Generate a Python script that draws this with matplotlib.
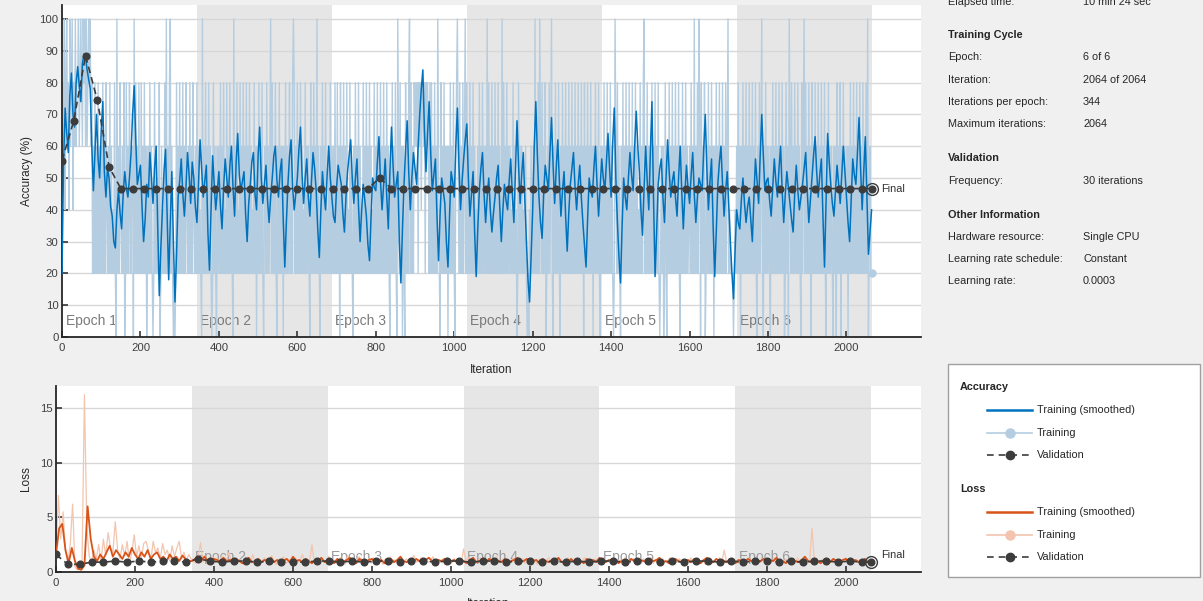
import numpy as np
import matplotlib
matplotlib.use("Agg")
import matplotlib.pyplot as plt
from matplotlib.lines import Line2D
from matplotlib.patches import Rectangle

plt.rcParams['font.family'] = ['Liberation Sans', 'DejaVu Sans']

# ---------------------------------------------------------------- data
ITERS_PER_EPOCH = 344
N_EPOCHS = 6
MAX_ITER = 2064
VAL_FREQ = 30
RAW_STEP = 2            # iterations between stored raw accuracy points
ACC_SMOOTH_STEP = 4     # iterations between stored smoothed accuracy points
LOSS_SMOOTH_STEP = 8    # iterations between stored smoothed loss points
LOSS_RAW_STEP = 6       # iterations between stored raw loss points

# raw mini-batch accuracy, one digit per stored point, digit = accuracy / 20 %
acc_raw_codes = (
    "14352" "453425345243534" "4534543545353454534" "13141314131"
    "3141314213" "1413121410" "5131421314" "0141314213" "3051413141"
    "1413141302" "3141310141" "3121401312" "1415131451" "3101014131"
    "4131413142" "1314131421" "3141312105" "1314131413" "1014131031"
    "3141314121" "4131413105" "1314121413" "1413141314" "1312141303"
    "1413141023" "1413135141" "3141031413" "1303141312" "4131454131"
    "4131413121" "4131310413" "1413151310" "3141314121" "3141313141"
    "1413041314" "1314121413" "1031413141" "3121413141" "3141312141"
    "3141314131" "4131413103" "1413141053" "1413031041" "3145141314"
    "3434143424" "4341434314" "1413141315" "3104131413" "1303141314"
    "1034531413" "1413514131" "4131413121" "3141314131" "3151413141"
    "3141314131" "1514131413" "1312141312" "0141313121" "1310102131"
    "1315131415" "3141314013" "1413510314" "1314103141" "3141314131"
    "4131413141" "3141304131" "4131413031" "4131410313" "1413141314"
    "1310153141" "3103141314" "1314131413" "1413121413" "1451314131"
    "3141314131" "4101313014" "1031413141" "3141314103" "1413141312"
    "3141315131" "4153041314" "0131413141" "3031413141" "3141314135"
    "1211110121" "3141303141" "3141314131" "4131410314" "1351031413"
    "1310314131" "4131413141" "3014130531" "4131413141" "3104135141"
    "3141304131" "4131413141" "3141031413" "1310313041" "3140314131"
    "1303141314" "1314131413" "1413141502" "311"
)

# smoothed training accuracy (%), every ACC_SMOOTH_STEP iterations
acc_smooth = [
    20, 55, 72, 64, 58, 76, 83, 70, 66, 80, 85, 79, 74, 86, 89, 88, 84, 81, 78, 60,
    46, 58, 70, 56, 50, 65, 74, 52, 44, 53, 50, 41, 38, 30, 28, 40, 46, 39, 34, 45,
    52, 47, 44, 50, 58, 70, 79, 62, 48, 51,
    54, 41, 30, 37, 48, 44, 58, 50, 42, 53, 60, 35, 13, 28, 40, 52, 59, 38, 18, 36,
    52, 30, 11, 26, 44, 49, 56, 45, 38, 47, 58, 51, 42, 55, 50, 41, 36, 48, 62, 53,
    44, 49, 54, 33, 21, 40, 57, 48, 40, 46,
    52, 41, 34, 47, 56, 50, 44, 54, 60, 47, 38, 55, 64, 51, 46, 49, 52, 39, 30, 42,
    48, 55, 58, 45, 40, 57, 66, 50, 42, 48, 54, 43, 36, 44, 50, 57, 60, 49, 44, 52,
    56, 37, 22, 36, 48, 57, 62, 47, 40, 45,
    50, 59, 66, 51, 42, 50, 56, 44, 38, 49, 58, 53, 46, 34, 25, 40, 52, 45, 40, 51,
    60, 50, 44, 38, 36, 47, 54, 51, 48, 39, 33, 44, 52, 57, 62, 50, 42, 50, 56, 41,
    30, 40, 48, 43, 38, 29, 24, 38, 50, 47,
    46, 55, 63, 49, 40, 48, 56, 44, 34, 52, 66, 54, 44, 48, 52, 30, 17, 34, 48, 59,
    68, 52, 40, 50, 58, 53, 48, 60, 70, 78, 84, 65, 52, 64, 74, 58, 46, 51, 56, 38,
    24, 39, 50, 46, 42, 30, 22, 38, 52, 49,
    44, 60, 72, 54, 40, 49, 56, 62, 67, 50, 38, 45, 52, 33, 19, 34, 46, 53, 58, 45,
    36, 44, 50, 40, 33, 39, 44, 50, 54, 41, 30, 40, 48, 43, 40, 49, 56, 45, 36, 52,
    68, 54, 42, 51, 58, 43, 30, 18, 11, 26,
    40, 60, 74, 57, 44, 36, 31, 45, 54, 50, 46, 58, 69, 54, 42, 53, 62, 49, 38, 46,
    52, 38, 27, 39, 48, 53, 58, 47, 40, 48, 54, 44, 36, 29, 22, 37, 50, 46, 44, 53,
    60, 48, 38, 47, 56, 50, 46, 55, 64, 53,
    44, 61, 72, 50, 36, 25, 17, 35, 50, 44, 40, 50, 58, 51, 46, 60, 71, 60, 52, 40,
    32, 47, 60, 49, 40, 58, 74, 44, 19, 33, 48, 53, 56, 44, 36, 50, 62, 52, 44, 49,
    52, 44, 38, 50, 60, 46, 34, 45, 54, 47,
    42, 51, 58, 45, 36, 44, 50, 48, 46, 59, 70, 53, 40, 49, 56, 35, 19, 33, 48, 55,
    60, 48, 38, 46, 52, 41, 30, 20, 12, 27, 40, 36, 34, 43, 50, 42, 36, 41, 44, 37,
    30, 44, 56, 49, 42, 57, 70, 57, 46, 49,
    50, 43, 38, 47, 56, 49, 44, 53, 60, 46, 36, 45, 52, 47, 42, 37, 33, 45, 54, 46,
    40, 44, 48, 53, 58, 46, 36, 43, 50, 57, 63, 52, 44, 51, 56, 38, 22, 43, 64, 55,
    48, 42, 38, 46, 54, 48, 42, 51, 60, 52,
    44, 36, 30, 43, 56, 51, 48, 58, 69, 53, 40, 52, 63, 44, 26, 33, 40,
]

# validation accuracy (%), every VAL_FREQ iterations, then the final value
val_acc = [
    55.5, 68.0, 88.5, 74.5, 53.5, 46.67, 46.67, 46.67, 46.67, 46.67,
    46.67, 46.67, 46.67, 46.67, 46.67, 46.67, 46.67, 46.67, 46.67, 46.67,
    46.67, 46.67, 46.67, 46.67, 46.67, 46.67, 46.67, 50.0, 46.67, 46.67,
    46.67, 46.67, 46.67, 46.67, 46.67, 46.67, 46.67, 46.67, 46.67, 46.67,
    46.67, 46.67, 46.67, 46.67, 46.67, 46.67, 46.67, 46.67, 46.67, 46.67,
    46.67, 46.67, 46.67, 46.67, 46.67, 46.67, 46.67, 46.67, 46.67, 46.67,
    46.67, 46.67, 46.67, 46.67, 46.67, 46.67, 46.67, 46.67, 46.67,
]
val_acc_final = 46.67

# raw loss (tenths), every LOSS_RAW_STEP iterations
loss_raw_tenths = [
    16, 70, 30, 55, 20, 8, 25, 62, 5, 2, 3, 10, 162, 40, 15, 8, 20, 12, 25, 10,
    30, 15, 36, 22, 18, 46, 20, 12, 25, 15, 28, 8, 18, 34, 14, 24, 12, 26, 28, 20,
    10, 28, 18, 22, 12, 26, 16, 20, 10, 24, 14, 22, 28, 12, 18, 10, 16, 12,
    10, 8, 13, 27, 9, 12, 7, 11, 14, 8,
    12, 9, 15, 7, 11, 18, 8, 10, 13, 9,
    11, 7, 14, 10, 8, 16, 9, 12, 7, 10,
    13, 8, 11, 15, 9, 7, 12, 10, 14, 8,
    10, 12, 7, 13, 9, 11, 16, 8, 12, 10,
    25, 9, 11, 7, 13, 10, 8, 14, 9, 12,
    8, 11, 13, 9, 7, 15, 10, 12, 8, 11,
    14, 9, 10, 7, 12, 8, 13, 10, 9, 11,
    7, 12, 10, 14, 8, 11, 9, 13, 7, 10,
    12, 8, 11, 15, 9, 10, 13, 8, 11, 9,
    10, 14, 8, 12, 9, 11, 7, 13, 10, 8,
    12, 9, 11, 8, 21, 10, 13, 9, 11, 8,
    10, 13, 8, 11, 9, 12, 7, 10, 14, 8,
    11, 9, 12, 8, 10, 13, 7, 11, 9, 12,
    8, 10, 13, 9, 11, 7, 12, 10, 8, 11,
    13, 9, 10, 8, 12, 11, 7, 10, 13, 9,
    10, 12, 8, 11, 9, 13, 10, 7, 11, 9,
    12, 8, 10, 13, 9, 11, 8, 12, 10, 9,
    11, 7, 13, 10, 8, 12, 9, 11, 10, 8,
    12, 10, 9, 13, 8, 11, 7, 10, 12, 9,
    10, 13, 8, 11, 9, 12, 10, 8, 11, 9,
    13, 8, 10, 12, 9, 11, 7, 10, 12, 8,
    11, 9, 13, 10, 20, 8, 12, 9, 11, 10,
    8, 12, 10, 9, 13, 11, 8, 10, 12, 9,
    11, 10, 8, 12, 9, 13, 10, 8, 11, 9,
    12, 9, 11, 10, 8, 13, 9, 11, 10, 12,
    9, 40, 10, 12, 8, 11, 10, 13, 9, 11,
    10, 12, 8, 11, 9, 13, 10, 8, 12, 9,
    11, 10, 9, 12, 8, 10, 9,
]

# smoothed loss (tenths), every LOSS_SMOOTH_STEP iterations
loss_smooth_tenths = [
    16, 40, 44, 20, 8, 22, 10, 3, 2, 6, 60, 30, 14, 10, 16, 12, 18, 24, 14, 20,
    16, 12, 18, 14, 22, 16, 12, 18, 14, 20, 12, 16, 18, 12, 14, 10, 16, 12, 14, 10,
    15, 12, 10,
    10, 12, 9, 11, 14, 10, 8, 12, 11, 9, 13, 10,
    11, 9, 12, 10, 8, 11, 13, 9, 10, 12, 9, 11,
    10, 13, 9, 11, 8, 10, 12, 9, 14, 10, 11, 9,
    12, 10, 8, 11, 10, 13, 9, 11, 10, 8, 12, 10,
    9, 11, 13, 10, 8, 12, 10, 9, 11, 12, 9, 10,
    11, 8, 10, 12, 9, 11, 14, 10, 9, 11, 8, 12,
    10, 9, 11, 13, 10, 8, 11, 10, 12, 9, 10, 11,
    9, 12, 10, 8, 11, 13, 9, 10, 11, 8, 12, 10,
    11, 10, 9, 12, 8, 10, 11, 13, 9, 10, 12, 9,
    10, 11, 8, 12, 10, 9, 11, 10, 13, 9, 10, 8,
    12, 9, 11, 10, 8, 12, 10, 11, 9, 13, 10, 9,
    11, 10, 12, 8, 10, 11, 9, 12, 10, 8, 11, 10,
    9, 12, 10, 11, 13, 9, 10, 8, 11, 12, 10, 9,
    10, 11, 9, 12, 10, 8, 11, 13, 10, 9, 12, 10,
    11, 9, 10, 12, 8, 11, 10, 9, 12, 10, 11, 8,
    10, 12, 9, 11, 10, 13, 9, 10, 8, 11, 12, 10,
    9, 11, 14, 10, 9, 12, 10, 8, 11, 10, 9, 12,
    10, 9, 11, 12, 8, 10, 11, 9, 10, 12, 9, 10,
]

# validation loss (tenths), every VAL_FREQ iterations, then the final value
val_loss_tenths = [
    16, 7, 7, 9, 9, 10, 9, 10, 9, 10,
    10, 9, 12, 10, 9, 10, 10, 9, 10, 9,
    9, 9, 10, 10, 9, 10, 9, 10, 10, 9,
    10, 10, 9, 10, 10, 9, 10, 10, 9, 10,
    10, 9, 10, 9, 10, 9, 10, 10, 9, 10,
    10, 9, 10, 9, 10, 10, 9, 10, 9, 10,
    10, 9, 10, 9, 10, 10, 9, 10, 9,
]
val_loss_final_tenths = 9

acc_yticks = [0, 10, 20, 30, 40, 50, 60, 70, 80, 90, 100]
loss_yticks = [0, 5, 10, 15]
iter_ticks = [0, 200, 400, 600, 800, 1000, 1200, 1400, 1600, 1800, 2000]

info_sections = [
    ("Training Cycle", [("Epoch:", "6 of 6"), ("Iteration:", "2064 of 2064"),
                        ("Iterations per epoch:", "344"), ("Maximum iterations:", "2064")]),
    ("Validation", [("Frequency:", "30 iterations")]),
    ("Other Information", [("Hardware resource:", "Single CPU"),
                           ("Learning rate schedule:", "Constant"),
                           ("Learning rate:", "0.0003")]),
]

# ---------------------------------------------------------------- derived arrays
acc_raw = np.array([int(c) for c in acc_raw_codes]) * 20.0
acc_raw_it = np.arange(len(acc_raw)) * RAW_STEP
acc_smooth = np.array(acc_smooth, float)
acc_smooth_it = np.arange(len(acc_smooth)) * ACC_SMOOTH_STEP
val_it = np.arange(len(val_acc)) * VAL_FREQ
val_it_full = np.append(val_it, MAX_ITER)
val_acc_full = np.append(val_acc, val_acc_final)
loss_raw = np.array(loss_raw_tenths) / 10.0
loss_raw_it = np.arange(len(loss_raw)) * LOSS_RAW_STEP
loss_smooth = np.array(loss_smooth_tenths) / 10.0
loss_smooth_it = np.arange(len(loss_smooth)) * LOSS_SMOOTH_STEP
val_loss_full = np.append(np.array(val_loss_tenths) / 10.0, val_loss_final_tenths / 10.0)

# ---------------------------------------------------------------- style
W, H = 1203, 601
BG = '#f0f0f0'
SHADE = '#e6e6e6'
GRID = '#d7d7d7'
AX_DARK = '#262626'
TICK_TXT = '#404040'
C_ACC = '#0072bd'
C_ACC_RAW = '#b5cde0'
C_LOSS = '#d95319'
C_LOSS_RAW = '#f3c5ae'
C_VAL = '#3c3c3c'
EPOCH_TXT = '#7a7a7a'

def fx(px):
    return px / W

def fy(py):
    return 1 - py / H

fig = plt.figure(figsize=(W / 100, H / 100), dpi=100, facecolor=BG)

XMAX = 2190

def style_axes(ax, ylim, yticks):
    ax.set_facecolor('white')
    ax.set_xlim(0, XMAX)
    ax.set_ylim(*ylim)
    ax.set_xticks(iter_ticks)
    ax.set_yticks(yticks)
    for s in ('top', 'right'):
        ax.spines[s].set_visible(False)
    for s in ('left', 'bottom'):
        ax.spines[s].set_color(AX_DARK)
        ax.spines[s].set_linewidth(1.3)
    ax.tick_params(direction='in', length=4.5, width=1.1, color=AX_DARK,
                   labelsize=8.2, labelcolor=TICK_TXT)
    ax.tick_params(axis='x', pad=4)
    ax.tick_params(axis='y', pad=2.5)
    ax.set_axisbelow(True)
    ax.grid(axis='y', color=GRID, lw=1.0)
    for e in range(1, N_EPOCHS, 2):
        ax.axvspan(e * ITERS_PER_EPOCH, (e + 1) * ITERS_PER_EPOCH, color=SHADE, lw=0, zorder=0)

# ---------------------------------------------------------------- accuracy panel
ax1 = fig.add_axes([fx(62), fy(337), fx(921) - fx(62), (337 - 5) / H])
style_axes(ax1, (0, 104.4), acc_yticks)
for e in range(N_EPOCHS):
    ax1.text(e * ITERS_PER_EPOCH + 9, 5, f"Epoch {e + 1}", color=EPOCH_TXT,
             fontsize=10, va='center', ha='left', zorder=1)
ax1.plot(acc_raw_it, acc_raw, color=C_ACC_RAW, lw=1.0, zorder=2)
ax1.plot(acc_raw_it[-1:], acc_raw[-1:], 'o', color=C_ACC_RAW, ms=5, zorder=2)
ax1.plot(acc_smooth_it, acc_smooth, color=C_ACC, lw=1.1, zorder=3)
ax1.plot(val_it_full, val_acc_full, color=C_VAL, lw=1.2, dashes=(4, 2.5),
         marker='o', ms=4.8, mfc=C_VAL, mec=C_VAL, zorder=4)
ax1.plot([MAX_ITER], [val_acc_final], 'o', mfc='none', mec=C_VAL, ms=8.5, mew=1.0, zorder=5)
ax1.annotate("Final", xy=(MAX_ITER, val_acc_final), xytext=(7, 0), textcoords='offset points',
             va='center', ha='left', fontsize=7.8, color='#303030')
ax1.set_ylabel("Accuracy (%)", fontsize=8.5, color=AX_DARK)
ax1.yaxis.set_label_coords(-0.034, 0.5)
ax1.set_xlabel("Iteration", fontsize=8.5, color=AX_DARK)
ax1.xaxis.set_label_coords(0.5, -0.081)

# ---------------------------------------------------------------- loss panel
ax2 = fig.add_axes([fx(56), fy(572), fx(921) - fx(56), (572 - 386) / H])
style_axes(ax2, (0, 17.0), loss_yticks)
for e in range(1, N_EPOCHS):
    ax2.text(e * ITERS_PER_EPOCH + 9, 1.4, f"Epoch {e + 1}", color='#9a9a9a',
             fontsize=10, va='center', ha='left', zorder=1)
ax2.plot(loss_raw_it, loss_raw, color=C_LOSS_RAW, lw=0.9, zorder=2)
ax2.plot(loss_smooth_it, loss_smooth, color=C_LOSS, lw=1.3, zorder=3)
ax2.plot(val_it_full, val_loss_full, color=C_VAL, lw=1.2, dashes=(4, 2.5),
         marker='o', ms=4.8, mfc=C_VAL, mec=C_VAL, zorder=4)
ax2.plot([MAX_ITER], [val_loss_full[-1]], 'o', mfc='none', mec=C_VAL, ms=8.5, mew=1.0, zorder=5)
ax2.annotate("Final", xy=(MAX_ITER, val_loss_full[-1]), xytext=(7, 5), textcoords='offset points',
             va='center', ha='left', fontsize=7.8, color='#303030')
ax2.set_ylabel("Loss", fontsize=8.5, color=AX_DARK)
ax2.yaxis.set_label_coords(-0.028, 0.5)
ax2.set_xlabel("Iteration", fontsize=8.5, color=AX_DARK)
ax2.xaxis.set_label_coords(0.5, -0.138)

# ---------------------------------------------------------------- info panel
TXT = '#262626'
LX, VX = 948, 1083
fig.text(fx(LX), fy(2), "Elapsed time:", fontsize=7.8, color=TXT, va='center')
fig.text(fx(VX), fy(2), "10 min 24 sec", fontsize=7.8, color=TXT, va='center')
y = 35
for head, rows in info_sections:
    fig.text(fx(LX), fy(y), head, fontsize=7.8, fontweight='bold', color=TXT, va='center')
    for lab, val in rows:
        y += 22.3
        fig.text(fx(LX), fy(y), lab, fontsize=7.8, color=TXT, va='center')
        fig.text(fx(VX), fy(y), val, fontsize=7.8, color=TXT, va='center')
    y += 34

# ---------------------------------------------------------------- legend box
fig.add_artist(Rectangle((fx(948), fy(577)), fx(1200) - fx(948), (577 - 364) / H,
                         transform=fig.transFigure, facecolor='white',
                         edgecolor='#a0a0a0', lw=1.0))

def legend_group(y0, title, c_smooth, c_raw):
    fig.text(fx(960), fy(y0), title, fontsize=7.8, fontweight='bold', color=TXT, va='center')
    entries = [("Training (smoothed)", 'smooth'), ("Training", 'raw'), ("Validation", 'val')]
    for k, (lab, kind) in enumerate(entries):
        yy = y0 + 23.7 + 22.5 * k
        if kind == 'smooth':
            fig.add_artist(Line2D([fx(987), fx(1032)], [fy(yy), fy(yy)], color=c_smooth,
                                  lw=1.8, transform=fig.transFigure))
        elif kind == 'raw':
            fig.add_artist(Line2D([fx(987), fx(1032)], [fy(yy), fy(yy)], color=c_raw,
                                  lw=1.2, transform=fig.transFigure))
            fig.add_artist(Line2D([fx(1009.5)], [fy(yy)], color=c_raw, marker='o', ms=6.5,
                                  transform=fig.transFigure))
        else:
            fig.add_artist(Line2D([fx(987), fx(1032)], [fy(yy), fy(yy)], color=C_VAL,
                                  lw=1.2, dashes=(4, 3), transform=fig.transFigure))
            fig.add_artist(Line2D([fx(1009.5)], [fy(yy)], color=C_VAL, marker='o', ms=6,
                                  transform=fig.transFigure))
        fig.text(fx(1037), fy(yy), lab, fontsize=7.8, color=TXT, va='center')

legend_group(386.5, "Accuracy", C_ACC, C_ACC_RAW)
legend_group(488.5, "Loss", C_LOSS, C_LOSS_RAW)

fig.savefig("out.png", dpi=100, facecolor=BG)
